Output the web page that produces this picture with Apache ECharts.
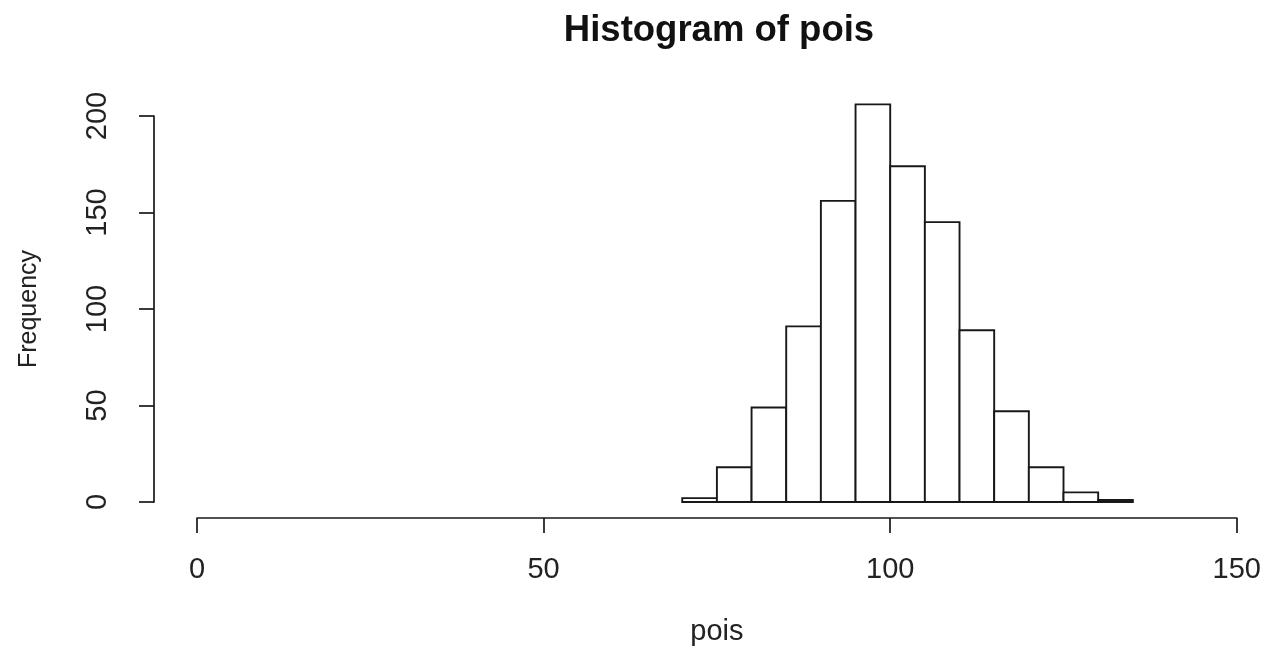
<!DOCTYPE html>
<html>
<head>
<meta charset="utf-8">
<title>Histogram of pois</title>
<script src="https://cdn.jsdelivr.net/npm/echarts@6/dist/echarts.min.js"></script>
<style>
  html, body { margin: 0; padding: 0; background: #fff; }
  #chart { width: 1264px; height: 651px; }
</style>
</head>
<body>
<div id="chart"></div>
<script>
// Histogram bins (left edges), bin width and counts per bin
var binStarts = [70, 75, 80, 85, 90, 95, 100, 105, 110, 115, 120, 125, 130];
var binWidth = 5;
var counts = [2, 18, 49, 91, 156, 206, 174, 145, 89, 47, 18, 5, 1];

// Axis tick values
var xTicks = [0, 50, 100, 150];
var yTicks = [0, 50, 100, 150, 200];

var FONT = '"Liberation Sans", Arial, sans-serif';
var INK = '#181818';

var binData = binStarts.map(function (s, i) {
  return [s, s + binWidth, counts[i]];
});

var chart = echarts.init(document.getElementById('chart'));

chart.setOption({
  backgroundColor: '#ffffff',
  animation: false,
  title: {
    text: 'Histogram of pois',
    left: 714,
    top: 7,
    textAlign: 'center',
    textStyle: {
      fontFamily: FONT,
      fontWeight: 'bold',
      fontSize: 36.5,
      color: '#111'
    }
  },
  grid: {
    left: 197,
    right: 26,
    top: 116,
    bottom: 146
  },
  xAxis: {
    type: 'value',
    min: xTicks[0],
    max: xTicks[xTicks.length - 1],
    interval: 50,
    offset: 16,
    name: 'pois',
    nameLocation: 'middle',
    nameGap: 99,
    nameTextStyle: { fontFamily: FONT, fontSize: 29, color: '#222' },
    axisLine: { show: true, onZero: false, lineStyle: { color: INK, width: 1.7 } },
    axisTick: { show: true, length: 15, lineStyle: { color: INK, width: 1.7 } },
    axisLabel: {
      margin: 37,
      fontFamily: FONT,
      fontSize: 29,
      color: '#222',
      customValues: xTicks
    },
    splitLine: { show: false }
  },
  yAxis: {
    type: 'value',
    min: yTicks[0],
    max: yTicks[yTicks.length - 1],
    interval: 50,
    offset: 43,
    name: 'Frequency',
    nameLocation: 'middle',
    nameRotate: 90,
    nameGap: 112,
    nameTextStyle: { fontFamily: FONT, fontSize: 25, color: '#222' },
    axisLine: { show: true, onZero: false, lineStyle: { color: INK, width: 1.7 } },
    axisTick: { show: true, length: 15, lineStyle: { color: INK, width: 1.7 } },
    axisLabel: {
      rotate: 90,
      margin: 42,
      fontFamily: FONT,
      fontSize: 29,
      color: '#222'
    },
    splitLine: { show: false }
  },
  series: [{
    type: 'custom',
    clip: false,
    data: binData,
    encode: { x: [0, 1], y: 2 },
    renderItem: function (params, api) {
      var base = api.coord([api.value(0), 0]);
      var top = api.coord([api.value(1), api.value(2)]);
      return {
        type: 'rect',
        shape: {
          x: base[0],
          y: top[1],
          width: top[0] - base[0],
          height: base[1] - top[1]
        },
        style: { fill: '#ffffff', stroke: INK, lineWidth: 1.9 }
      };
    }
  }]
});
</script>
</body>
</html>
